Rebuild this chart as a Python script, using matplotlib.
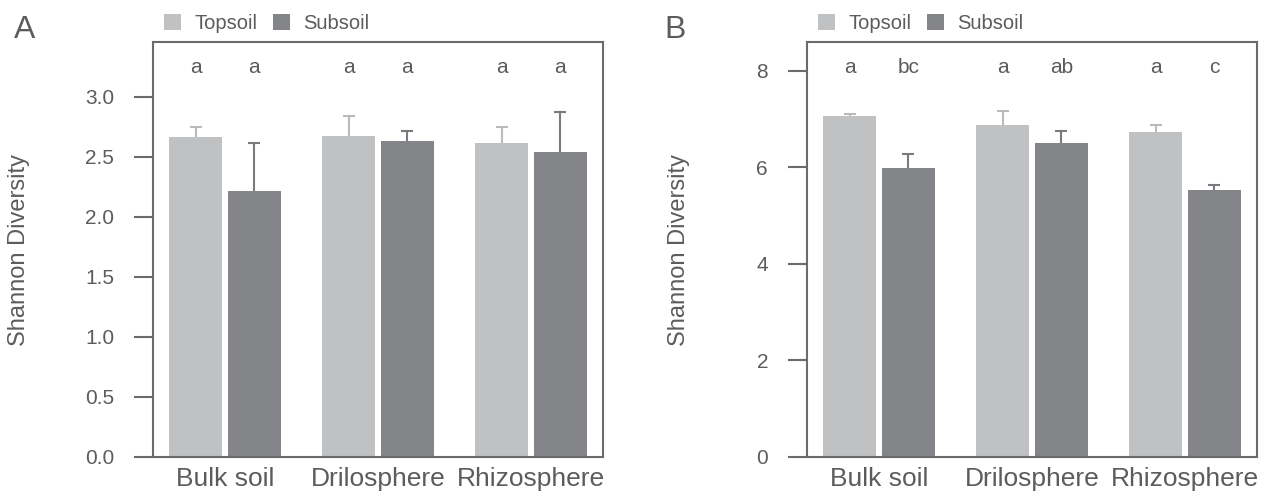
import numpy as np
import matplotlib
matplotlib.use('Agg')
import matplotlib.pyplot as plt

plt.rcParams['font.family'] = ['Liberation Sans', 'DejaVu Sans']

groups = ['Bulk soil', 'Drilosphere', 'Rhizosphere']
layers = ['Topsoil', 'Subsoil']

# Shannon diversity, panel A
a_top = [2.665, 2.673, 2.615]
a_top_err = [0.085, 0.167, 0.130]
a_sub = [2.215, 2.631, 2.540]
a_sub_err = [0.395, 0.086, 0.335]
a_top_letters = ['a', 'a', 'a']
a_sub_letters = ['a', 'a', 'a']
a_ticks = [0.0, 0.5, 1.0, 1.5, 2.0, 2.5, 3.0]

# Shannon diversity, panel B
b_top = [7.06, 6.87, 6.73]
b_top_err = [0.03, 0.29, 0.15]
b_sub = [5.98, 6.50, 5.53]
b_sub_err = [0.30, 0.25, 0.095]
b_top_letters = ['a', 'a', 'a']
b_sub_letters = ['bc', 'ab', 'c']
b_ticks = [0, 2, 4, 6, 8]

C_TOP = '#c0c1c3'
C_SUB = '#848589'
E_TOP = '#b9babc'
E_SUB = '#7a7b7f'
TEXT = '#5c5c5c'
LINE = '#6b6b6b'


def upper_errbar(ax, x, y, err, color):
    # one-sided error bars: keep only the upper cap
    zeros = np.zeros(len(y))
    eb = ax.errorbar(x, y, yerr=[zeros, err], fmt='none', ecolor=color,
                     elinewidth=1.5, capsize=4.3, capthick=1.5)
    eb[1][0].set_visible(False)


def draw_panel(ax, top, top_err, sub, sub_err, top_let, sub_let, ticks, ymax, tickfmt):
    x = np.arange(len(groups))
    w = 0.347
    off = (w + 0.035) / 2
    b1 = ax.bar(x - off, top, w, color=C_TOP, label=layers[0])
    b2 = ax.bar(x + off, sub, w, color=C_SUB, label=layers[1])
    upper_errbar(ax, x - off, top, top_err, E_TOP)
    upper_errbar(ax, x + off, sub, sub_err, E_SUB)

    # significance letters above each bar
    tr = ax.get_xaxis_transform()
    for i in range(len(groups)):
        ax.text(x[i] - off, 0.925, top_let[i], transform=tr, ha='center',
                va='baseline', fontsize=15, color=TEXT)
        ax.text(x[i] + off, 0.925, sub_let[i], transform=tr, ha='center',
                va='baseline', fontsize=15, color=TEXT)

    ax.set_xlim(-0.47, len(groups) - 1 + 0.47)
    ax.set_ylim(0, ymax)
    ax.set_xticks(x)
    ax.set_xticklabels(groups)
    ax.set_yticks(ticks)
    ax.set_yticklabels([tickfmt.format(t) for t in ticks])
    for s in ax.spines.values():
        s.set_color(LINE)
        s.set_linewidth(1.5)
    ax.tick_params(axis='y', direction='out', length=14, width=1.5, color=LINE,
                   pad=14, labelsize=15, labelcolor=TEXT)
    ax.tick_params(axis='x', length=0, pad=7.5, labelsize=19, labelcolor=TEXT)
    ax.set_ylabel('Shannon Diversity', fontsize=17, color=TEXT)

    ax.legend(handles=[b1, b2], loc='center left', bbox_to_anchor=(0.024, 1.045),
              ncol=2, frameon=False, fontsize=14.5, labelcolor=TEXT,
              handlelength=0.85, handleheight=0.9, handletextpad=0.65,
              columnspacing=0.8, borderpad=0, borderaxespad=0)


fig = plt.figure(figsize=(12.71, 4.97), dpi=100)
ax_a = fig.add_axes([153 / 1271, 40 / 497, 450 / 1271, 415 / 497])
ax_b = fig.add_axes([807 / 1271, 40 / 497, 450 / 1271, 415 / 497])

draw_panel(ax_a, a_top, a_top_err, a_sub, a_sub_err, a_top_letters, a_sub_letters,
           a_ticks, 3.455, '{:.1f}')
draw_panel(ax_b, b_top, b_top_err, b_sub, b_sub_err, b_top_letters, b_sub_letters,
           b_ticks, 8.59, '{:d}')

ax_a.yaxis.set_label_coords(-0.273, 0.5)
ax_b.yaxis.set_label_coords(-0.26, 0.5)

fig.text(14 / 1271, 1 - 38 / 497, 'A', fontsize=23, color=TEXT, va='baseline')
fig.text(664 / 1271, 1 - 38 / 497, 'B', fontsize=23, color=TEXT, va='baseline')

fig.savefig('out.png', dpi=100)
